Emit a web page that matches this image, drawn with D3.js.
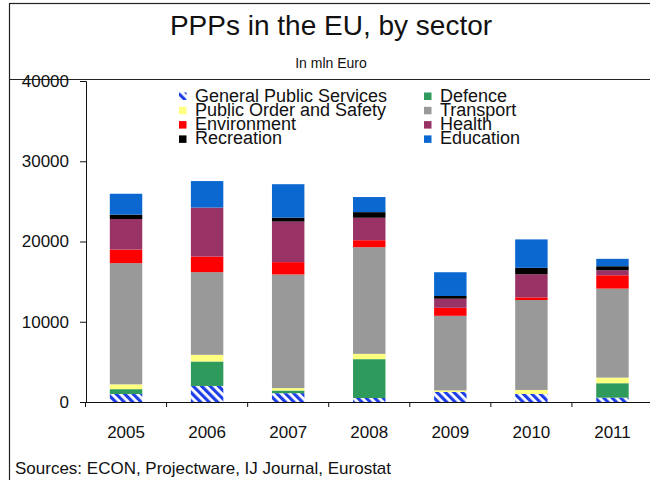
<!DOCTYPE html>
<html>
<head>
<meta charset="utf-8">
<script src="https://cdn.jsdelivr.net/npm/d3@7"></script>
<style>
  body { margin: 0; background: #fff; }
  text { font-family: "Liberation Sans", Arial, sans-serif; fill: #111; }
</style>
</head>
<body>
<script>
// chart data (mln Euro)
const years = ["2005", "2006", "2007", "2008", "2009", "2010", "2011"];
const sectors = ["General Public Services", "Defence", "Public Order and Safety", "Transport",
                 "Environment", "Health", "Recreation", "Education"];
const generalPublic = [1000, 2000, 1100, 500, 1250, 1000, 540];
const defence       = [600, 3050, 330, 4840, 0, 0, 1800];
const publicOrder   = [600, 830, 300, 660, 200, 500, 700];
const transport     = [15100, 10300, 14160, 13290, 9290, 11210, 11090];
const environment   = [1700, 1950, 1540, 870, 1000, 330, 1660];
const health        = [3800, 6100, 5050, 2800, 1130, 2880, 630];
const recreation    = [550, 0, 500, 700, 340, 800, 500];
const education     = [2600, 3300, 4160, 1880, 2960, 3540, 920];
const yTicks = [0, 10000, 20000, 30000, 40000];

const seriesVals = [generalPublic, defence, publicOrder, transport, environment, health, recreation, education];
const colors = ["url(#hatch)", "#2e9a5c", "#ffff80", "#999999", "#ff0000", "#993366", "#000000", "#0a68d0"];

// table for d3.stack
const rows = years.map(function (y, i) {
  let r = { year: y };
  sectors.forEach(function (s, k) { r[s] = seriesVals[k][i]; });
  return r;
});

let svg = d3.select("body").append("svg")
  .attr("width", 650)
  .attr("height", 480);

// hatch for general public services
let pat = svg.append("defs").append("pattern")
  .attr("id", "hatch")
  .attr("patternUnits", "userSpaceOnUse")
  .attr("width", 6).attr("height", 6)
  .attr("patternTransform", "rotate(-45)");
pat.append("rect").attr("width", 6).attr("height", 6).attr("fill", "#fff");
pat.append("rect").attr("width", 3.2).attr("height", 6).attr("fill", "#1f3fe6");

// frame
svg.append("rect")
  .attr("x", 9.5).attr("y", 3.5)
  .attr("width", 700).attr("height", 600)
  .attr("fill", "none").attr("stroke", "#222").attr("stroke-width", 1.2);
svg.append("line")
  .attr("x1", 9).attr("x2", 650).attr("y1", 79.5).attr("y2", 79.5)
  .attr("stroke", "#222").attr("stroke-width", 1.2);

svg.append("text")
  .attr("x", 331).attr("y", 35)
  .attr("text-anchor", "middle")
  .style("font-size", "28px")
  .text("PPPs in the EU, by sector");
svg.append("text")
  .attr("x", 331).attr("y", 68)
  .attr("text-anchor", "middle")
  .style("font-size", "14px")
  .text("In mln Euro");

let x = d3.scaleBand().domain(years).range([85.5, 653]).paddingInner(0.6).paddingOuter(0.3);
let y = d3.scaleLinear().domain([0, 40000]).range([402, 81]);

let stack = d3.stack().keys(sectors)(rows);

svg.append("g").selectAll("g")
  .data(stack)
  .enter().append("g")
  .attr("fill", function (d, i) { return colors[i]; })
  .selectAll("rect")
  .data(function (d) { return d; })
  .enter().append("rect")
  .attr("x", function (d) { return x(d.data.year); })
  .attr("width", x.bandwidth())
  .attr("y", function (d) { return y(d[1]); })
  .attr("height", function (d) { return y(d[0]) - y(d[1]); });

// y axis
let yAxis = svg.append("g")
  .attr("transform", "translate(86,0)")
  .call(d3.axisLeft(y).tickValues(yTicks).tickSize(6).tickPadding(11).tickFormat(d3.format("d")));
yAxis.selectAll("text").style("font-size", "17px");
yAxis.selectAll("path, line").attr("stroke", "#111");

// x axis, ticks between categories
let xAxis = svg.append("g")
  .attr("transform", "translate(0,402)")
  .call(d3.axisBottom(x).tickSize(0).tickPadding(24));
xAxis.select(".domain").attr("stroke", "#111");
xAxis.selectAll("text").style("font-size", "17px");
xAxis.selectAll(".sep")
  .data(years)
  .enter().append("line")
  .attr("x1", function (d) { return x(d) - x.step() * x.paddingInner() / 2; })
  .attr("x2", function (d) { return x(d) - x.step() * x.paddingInner() / 2; })
  .attr("y1", 0).attr("y2", 5)
  .attr("stroke", "#111");

// legend
let leg = svg.append("g").selectAll("g")
  .data(sectors)
  .enter().append("g")
  .attr("transform", function (d, i) {
    let col = i % 2, row = Math.floor(i / 2);
    return "translate(" + (col ? 424 : 179) + "," + (96 + row * 14.3) + ")";
  });
leg.append("rect")
  .attr("x", 0).attr("y", -3.5).attr("width", 7.5).attr("height", 7.5)
  .attr("fill", function (d, i) { return colors[i]; });
leg.append("text")
  .attr("x", 16).attr("y", 5.5)
  .style("font-size", "18px")
  .text(function (d) { return d; });

svg.append("text")
  .attr("x", 15).attr("y", 474)
  .style("font-size", "17px")
  .text("Sources: ECON, Projectware, IJ Journal, Eurostat");
</script>
</body>
</html>
